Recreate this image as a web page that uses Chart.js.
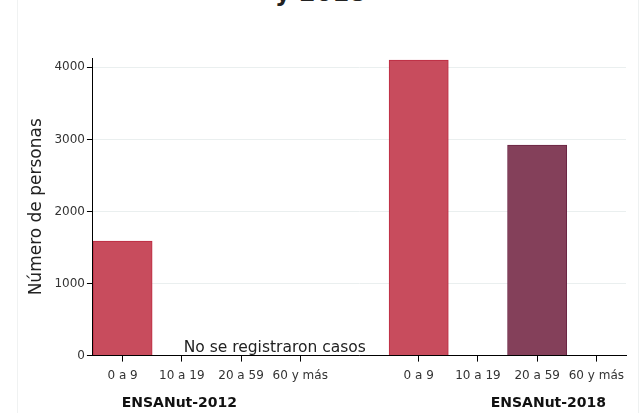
<!DOCTYPE html>
<html>
<head>
<meta charset="utf-8">
<script src="https://cdn.jsdelivr.net/npm/chart.js@4.4.0/dist/chart.umd.min.js"></script>
<style>
  html, body { margin: 0; padding: 0; background: #fff; overflow: hidden; }
  #wrap { position: relative; width: 641px; height: 413px; overflow: hidden; }
  #frame { position: absolute; left: 17px; top: 0; width: 620px; height: 413px; border-left: 1px solid #f0f2f2; border-right: 1px solid #eef1f1; }
  #title { position: absolute; left: 0; width: 641px; top: -21px; text-align: center; font: bold 24px "DejaVu Sans", sans-serif; color: #222; }
  canvas { position: absolute; left: 0; top: 0; }
</style>
</head>
<body>
<div id="wrap">
  <div id="frame"></div>
  <div id="title">y 2018</div>
  <canvas id="chart" width="641" height="413"></canvas>
</div>
<script>
const ages = ['0 a 9', '10 a 19', '20 a 59', '60 y más'];
const values2012 = [1590, 0, 0, 0];
const values2018 = [4100, 0, 2920, 0];
const ageColors = ['#c84c5d', '#c84c5d', '#84405a', '#84405a'];
const ageBorders = ['#bd2a40', '#bd2a40', '#6a2342', '#6a2342'];
const yTicks = [0, 1000, 2000, 3000, 4000];

const labels = [...ages, '', ...ages];
const data = [...values2012, null, ...values2018];
const fills = [...ageColors, null, ...ageColors];
const borders = [...ageBorders, null, ...ageBorders];

const fontFamily = '"DejaVu Sans", sans-serif';

const annotations = {
    id: 'annotations',
    afterDraw(chart) {
        const c = chart.ctx;
        const x = chart.scales.x;
        const y = chart.scales.y;
        c.save();
        c.fillStyle = '#222';
        c.textAlign = 'center';
        c.textBaseline = 'alphabetic';
        c.font = '15.5px ' + fontFamily;
        c.fillText('No se registraron casos', x.getPixelForValue(2.57), y.getPixelForValue(0) - 4);
        c.font = 'bold 14px ' + fontFamily;
        c.fillStyle = '#111';
        c.fillText('ENSANut-2012', x.getPixelForValue(0.96), 407);
        c.fillText('ENSANut-2018', x.getPixelForValue(7.19), 407);
        c.restore();
    }
};

new Chart(document.getElementById('chart').getContext('2d'), {
    type: 'bar',
    data: {
        labels: labels,
        datasets: [{
            label: 'Número de personas',
            data: data,
            backgroundColor: ctx => (ctx.raw ? fills[ctx.dataIndex] : 'rgba(0,0,0,0)'),
            borderColor: borders,
            borderWidth: ctx => (ctx.raw ? 1 : 0),
            barPercentage: 1,
            categoryPercentage: 1
        }]
    },
    options: {
        responsive: false,
        animation: false,
        layout: { padding: { top: 58, right: 15, bottom: 23, left: 26 } },
        plugins: {
            legend: { display: false },
            tooltip: { enabled: false }
        },
        scales: {
            x: {
                border: { color: '#000', width: 1 },
                grid: {
                    offset: false,
                    drawOnChartArea: false,
                    tickLength: 6,
                    color: ctx => (labels[ctx.index] === '' ? 'rgba(0,0,0,0)' : '#000')
                },
                ticks: {
                    color: '#333',
                    font: { family: fontFamily, size: 12 },
                    padding: 7,
                    maxRotation: 0,
                    autoSkip: false
                }
            },
            y: {
                min: 0,
                max: 4130,
                afterBuildTicks: axis => { axis.ticks = yTicks.map(v => ({ value: v })); },
                border: { color: '#000', width: 1 },
                grid: {
                    color: '#eaefef',
                    tickColor: '#000',
                    tickLength: 6
                },
                ticks: {
                    color: '#333',
                    font: { family: fontFamily, size: 12 },
                    padding: 2,
                    callback: v => String(v)
                },
                title: {
                    display: true,
                    text: 'Número de personas',
                    color: '#222',
                    font: { family: fontFamily, size: 17 },
                    padding: { top: 0, bottom: 6 }
                }
            }
        }
    },
    plugins: [annotations]
});
</script>
</body>
</html>
